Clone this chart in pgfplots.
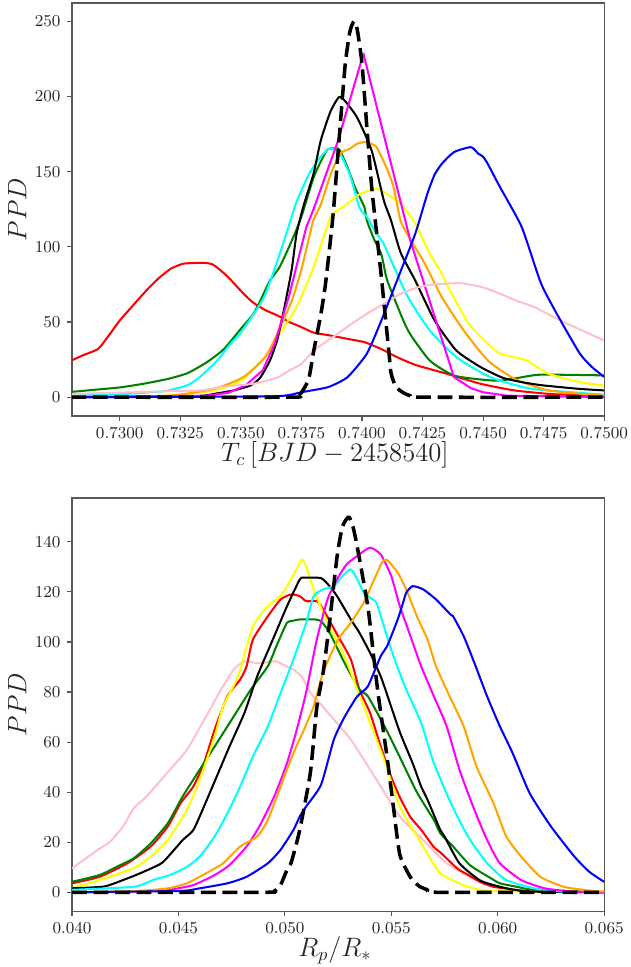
\documentclass[border=0pt]{standalone}
\usepackage{pgfplots}
\pgfplotsset{compat=1.18}
\definecolor{mgreen}{HTML}{008000}
\definecolor{morange}{HTML}{FFA500}
\definecolor{mpink}{HTML}{FFC0CB}
\definecolor{myellow}{HTML}{FFFF00}
\definecolor{mcyan}{HTML}{00FFFF}
\definecolor{mmagenta}{HTML}{FF00FF}
\definecolor{mblue}{HTML}{0000FF}
\definecolor{mred}{HTML}{FF0000}
\pgfplotsset{
 mystyle/.style={
  scale only axis, width=287.3pt, height=223pt,
  axis line style={black!65, line width=0.6pt},
  tick align=outside, tick pos=left,
  major tick length=2.7pt,
  every tick/.style={black!65, line width=0.6pt},
  tick label style={font=\fontsize{9.4}{11}\selectfont, text=black!85},
  label style={font=\fontsize{14}{16}\selectfont, text=black!85},
  scaled ticks=false,
  ylabel={$PPD$},
  ylabel style={at={(axis description cs:-0.103,0.5)}, anchor=center},
  xlabel style={at={(axis description cs:0.494,-0.094)}, anchor=center},
  every axis plot/.append style={line width=1.1pt, line join=round},
 },
 sm/.style={smooth, tension=0.35},
 dsh/.style={black, line width=1.9pt, dash pattern=on 8pt off 3.6pt, smooth, tension=0.35},
}
\begin{document}
\begin{tikzpicture}
\useasboundingbox (-38.9pt,-297.5pt) rectangle (301.3pt,224.6pt);
% ---------------- top panel ----------------
\begin{axis}[mystyle, at={(0,0)}, anchor=south west,
  xmin=0.72803, xmax=0.7500, ymin=-12.5, ymax=262.2,
  xtick={0.7300,0.7325,0.7350,0.7375,0.7400,0.7425,0.7450,0.7475,0.7500},
  ytick={0,50,100,150,200,250},
  xticklabel style={/pgf/number format/.cd, fixed, fixed zerofill, precision=4},
  xlabel={$T_c\,[BJD-2458540]$}]
\addplot[mred, sm] coordinates {(0.7280,24.4)(0.7285,28)(0.7291,32)(0.7295,40)(0.7300,51)(0.7306,62)(0.7311,71)(0.7316,79)(0.7321,85.4)(0.7326,88.7)(0.7330,89.2)(0.7335,89.4)(0.7338,88.5)(0.7340,86.5)(0.7344,81)(0.7347,76)(0.7351,69)(0.7355,63)(0.7360,58)(0.7365,54.4)(0.7370,50)(0.7375,46.6)(0.7380,43)(0.7387,41)(0.7395,38.5)(0.7401,36.6)(0.7408,32)(0.7414,27)(0.7422,21.5)(0.7435,15.6)(0.7449,8.9)(0.7463,4.5)(0.7479,2)(0.7500,1)};
\addplot[mgreen, sm] coordinates {(0.7280,3.5)(0.7290,5)(0.7300,6.5)(0.7310,9)(0.7320,12.2)(0.7328,16)(0.7336,23.3)(0.7343,32)(0.7350,45.5)(0.7355,55)(0.7358,64)(0.7362,77.6)(0.7366,86.5)(0.7371,104)(0.7375,120)(0.7380,146)(0.7384,160)(0.7386,165)(0.7390,165.5)(0.7391,164)(0.7394,153)(0.7397,140)(0.7401,126.4)(0.7402,117.6)(0.7405,105)(0.7408,95)(0.7410,80)(0.7412,71)(0.7419,44.4)(0.7428,24.4)(0.7438,14.4)(0.7450,11.6)(0.7457,11)(0.7465,13)(0.7474,15)(0.7500,14.5)};
\addplot[mcyan, sm] coordinates {(0.7280,1)(0.7300,2)(0.7315,3.5)(0.7320,4.5)(0.7328,8)(0.7333,13.3)(0.7340,24)(0.7346,36)(0.7350,43)(0.7356,57)(0.7360,68)(0.7366,95)(0.7370,115)(0.7373,130)(0.7378,148)(0.7382,158)(0.7386,165)(0.7389,165)(0.7391,162)(0.7395,148)(0.7399,126)(0.7402,120)(0.7406,109)(0.7409,102)(0.7412,91)(0.7419,66.5)(0.7428,44.4)(0.7439,26.6)(0.7453,13.3)(0.7470,5.6)(0.7500,1.7)};
\addplot[myellow, sm] coordinates {(0.7280,0)(0.7320,1)(0.7339,4.5)(0.7350,11)(0.7360,26.6)(0.7366,42.2)(0.7373,60)(0.7380,86.5)(0.7387,119.8)(0.7390,124)(0.7395,130)(0.7399,135)(0.7403,137.5)(0.7406,138.6)(0.7408,137.5)(0.7416,128.6)(0.7422,115.4)(0.7428,95.4)(0.7432,85)(0.7436,72)(0.7444,49)(0.7452,35.5)(0.7457,28.9)(0.7462,27)(0.7468,24.4)(0.7477,15.6)(0.7490,10)(0.7500,7.8)};
\addplot[morange, sm] coordinates {(0.7280,0)(0.7320,1)(0.7339,5.6)(0.7351,13.3)(0.7360,26.6)(0.7365,42)(0.7371,64)(0.7375,85)(0.7378,105)(0.7380,118)(0.7383,128)(0.7387,148)(0.7391,162)(0.7395,165.3)(0.7398,168.6)(0.7401,169.7)(0.7403,169)(0.7406,166.4)(0.7410,153)(0.7413,140)(0.7416,117)(0.7420,105)(0.7426,88.7)(0.7433,66.5)(0.7442,44.4)(0.7452,24.4)(0.7463,12.2)(0.7477,4.5)(0.7500,1)};
\addplot[black, sm] coordinates {(0.7280,0)(0.7330,0.5)(0.7340,2.5)(0.7347,4.5)(0.7354,7.8)(0.7358,13)(0.7362,24.4)(0.7365,38)(0.7368,59.9)(0.7371,85)(0.7373,108.7)(0.7376,128)(0.7380,148.6)(0.7383,170.8)(0.7387,190)(0.73905,199.6)(0.7393,197)(0.7398,186)(0.7404,164)(0.7409,131)(0.7412,117.6)(0.7416,96)(0.7422,77.6)(0.7430,51)(0.7439,31)(0.7449,20)(0.7458,13)(0.7466,10)(0.7474,8)(0.7482,6.7)(0.7490,5.5)(0.7500,4.5)};
\addplot[mmagenta] coordinates {(0.7280,0)(0.7336,1)(0.7345,3)(0.7352,8)(0.7359,17.8)(0.7364,35.7)(0.7370,68)(0.7377,113)(0.7380,125)(0.7390,170)(0.74006,228.5)(0.7420,104)(0.7438,13.3)(0.7445,6)(0.7450,3.3)(0.7460,1)(0.7500,0)};
\addplot[mpink, sm] coordinates {(0.7280,2.2)(0.7300,3)(0.7320,4)(0.7333,4.5)(0.7343,7)(0.7355,8.9)(0.7365,13)(0.7370,17.8)(0.7375,22.2)(0.7380,31)(0.7388,40)(0.7395,48)(0.7402,55.5)(0.7409,62)(0.7416,68.8)(0.7423,73)(0.7430,75)(0.7441,75.8)(0.7450,73)(0.7457,68.8)(0.7464,64)(0.7471,60)(0.7482,51)(0.7490,45)(0.7500,37.7)};
\addplot[mblue, sm] coordinates {(0.7280,0)(0.7360,0.5)(0.7370,1.5)(0.7375,3.3)(0.7386,6.7)(0.7394,13.3)(0.7402,28.9)(0.7408,51)(0.7415,79.8)(0.7422,108.7)(0.7427,135.3)(0.7430,148)(0.7433,155.3)(0.7438,163)(0.7445,166.3)(0.7448,162)(0.7450,160)(0.7452,155)(0.7457,139.7)(0.7466,113)(0.7474,75.4)(0.7482,51)(0.7490,28.9)(0.7495,20)(0.7500,13.5)};
\addplot[dsh] coordinates {(0.7280,0)(0.7370,0)(0.7373,1)(0.7375,3)(0.7378,12)(0.7380,30)(0.7383,55)(0.7385,76)(0.7388,120)(0.7390,160)(0.7393,220)(0.7395,243)(0.73967,250)(0.7398,245)(0.7400,222)(0.7402,180)(0.7404,140)(0.7406,110)(0.7408,80)(0.7409,64)(0.7411,32)(0.7412,16)(0.7414,7)(0.7417,3)(0.7420,1)(0.7425,0)(0.7500,0)};
\end{axis}
% ---------------- bottom panel ----------------
\begin{axis}[mystyle, at={(0,-267.3pt)}, anchor=south west,
  xmin=0.040, xmax=0.065, ymin=-7.5, ymax=157.5,
  xtick={0.040,0.045,0.050,0.055,0.060,0.065},
  ytick={0,20,40,60,80,100,120,140},
  xticklabel style={/pgf/number format/.cd, fixed, fixed zerofill, precision=3},
  xlabel={$R_p/R_*$}]
\addplot[mpink, sm] coordinates {(0.0400,9.6)(0.0412,16.9)(0.0418,20.3)(0.0424,26.3)(0.0429,33.6)(0.0435,38.3)(0.0446,49)(0.0454,57)(0.0463,70.3)(0.0470,81)(0.0476,89)(0.0481,92.3)(0.0487,91.5)(0.0492,91.9)(0.0496,92.3)(0.0500,90.5)(0.0504,89)(0.0508,86)(0.0512,79.7)(0.0517,75)(0.0524,68)(0.0531,61)(0.0543,45)(0.0554,30.3)(0.0565,20.9)(0.0576,11.6)(0.0590,4.9)(0.0604,1.6)(0.0620,0.3)(0.0650,0)};
\addplot[mred, sm] coordinates {(0.0400,3.6)(0.0413,6.2)(0.0426,11.6)(0.0437,18.3)(0.0445,26.3)(0.0451,35.6)(0.0457,42.3)(0.0462,51.6)(0.0467,65)(0.0473,78.3)(0.0479,85)(0.0482,90.3)(0.0485,101)(0.0492,110.3)(0.0498,117)(0.0503,119)(0.0507,118.3)(0.0510,116.3)(0.0515,116.3)(0.0518,113)(0.0525,102.3)(0.0531,93)(0.0535,81)(0.0540,71.7)(0.0545,58.3)(0.0550,46)(0.0554,38)(0.0559,30)(0.0564,25)(0.0570,18)(0.0573,16)(0.0581,9.5)(0.0586,7)(0.0592,4)(0.0598,2.2)(0.0604,1.5)(0.0615,0.4)(0.0650,0)};
\addplot[mgreen, sm] coordinates {(0.0400,4.2)(0.0413,6.9)(0.0421,10.2)(0.0429,13.6)(0.0437,19.6)(0.0445,27.6)(0.0452,38.3)(0.0460,49)(0.0468,59.6)(0.0476,70.3)(0.0484,81)(0.0492,90.3)(0.0496,98.3)(0.0501,107.7)(0.0504,108.5)(0.0507,109)(0.0514,109)(0.0517,108.3)(0.0521,103.7)(0.0528,91.7)(0.0535,81)(0.0539,78.3)(0.0547,66)(0.0554,54)(0.0562,40)(0.0570,28.9)(0.0573,23.6)(0.0579,18.3)(0.0586,11.6)(0.0589,9.6)(0.0597,5.5)(0.0601,3.6)(0.0609,2.2)(0.0617,1)(0.0650,0)};
\addplot[myellow, sm] coordinates {(0.0400,1.6)(0.0413,4.9)(0.0429,9.6)(0.0437,14.3)(0.0445,20.9)(0.0454,33)(0.0460,45)(0.0467,62.3)(0.0471,74.3)(0.0478,86.3)(0.0485,106.3)(0.0492,114.3)(0.0496,117)(0.0498,118.3)(0.0502,123.7)(0.0506,130)(0.0508,133)(0.0510,130)(0.05135,121)(0.0520,107.7)(0.0528,94.3)(0.0534,81)(0.0546,54.3)(0.0554,34.3)(0.0564,19.6)(0.0573,7.6)(0.0586,2.2)(0.0598,0.5)(0.0650,0)};
\addplot[black, sm] coordinates {(0.0400,1.6)(0.0415,2.3)(0.0424,4.9)(0.0432,7.6)(0.0442,11.6)(0.0448,17)(0.0452,20.9)(0.0457,24.9)(0.0462,34.3)(0.0468,46.3)(0.0474,58.3)(0.0481,71.7)(0.0487,86.3)(0.0495,102.3)(0.0501,114.3)(0.0507,125)(0.0509,125.7)(0.0517,125.5)(0.0521,122.3)(0.05245,118.3)(0.0531,109)(0.0535,103.7)(0.0540,95.7)(0.0545,86.3)(0.0548,79)(0.0554,64)(0.0560,51.6)(0.0564,42.3)(0.0567,37)(0.0573,24.9)(0.0575,22.3)(0.0582,11.6)(0.0592,4.6)(0.0604,1.6)(0.0615,0.3)(0.0650,0)};
\addplot[mcyan, sm] coordinates {(0.0400,1)(0.0429,2.2)(0.0438,4.9)(0.0446,6.9)(0.0454,10.2)(0.0460,14.3)(0.0467,22.3)(0.0473,31.6)(0.0479,42.3)(0.0485,54.3)(0.0492,66.3)(0.0498,79.7)(0.0504,93)(0.0510,107.7)(0.05135,118.3)(0.0518,121)(0.0523,122.3)(0.0527,126.3)(0.0531,129)(0.0534,125)(0.0537,119.7)(0.0540,117.7)(0.0543,115.7)(0.0546,107.7)(0.0551,94.3)(0.0557,81)(0.0564,67.7)(0.0570,51.6)(0.0578,35.6)(0.0586,22.3)(0.0595,11.6)(0.0604,4.9)(0.0617,1.6)(0.0630,0.3)(0.0650,0)};
\addplot[mmagenta, sm] coordinates {(0.0400,0)(0.0440,0.5)(0.0446,1)(0.0457,2.9)(0.0467,6.9)(0.0474,10.9)(0.0482,18.3)(0.0488,26.3)(0.0495,38.3)(0.0501,51.6)(0.0506,66.3)(0.0510,80)(0.0515,101)(0.0520,117)(0.05245,125)(0.0529,131)(0.0535,135)(0.0540,137.7)(0.0545,135)(0.0550,126.3)(0.0554,114.3)(0.0559,102.3)(0.0564,90.3)(0.0570,78.3)(0.0576,66.3)(0.0582,49)(0.0589,33)(0.0595,20.9)(0.0601,11.6)(0.0611,4.9)(0.0622,1.6)(0.0635,0.3)(0.0650,0)};
\addplot[morange, sm] coordinates {(0.0400,0)(0.0430,0.5)(0.0445,1.6)(0.0454,3.6)(0.0463,7.6)(0.0471,11.6)(0.0479,18.3)(0.0487,22.3)(0.0492,28.9)(0.0498,42.3)(0.0504,55.6)(0.0509,65)(0.05135,74.3)(0.0518,88)(0.0525,101)(0.0531,107.7)(0.0537,115.7)(0.0542,125)(0.05456,131.7)(0.0548,132.8)(0.0553,127.7)(0.0557,121)(0.0562,110.3)(0.0567,101)(0.0571,90.3)(0.0577,79)(0.0584,66.3)(0.0590,50.3)(0.0598,35.6)(0.0604,22.3)(0.0611,14.3)(0.0620,6.2)(0.0631,2.2)(0.0642,0.8)(0.0650,0.3)};
\addplot[mblue, sm] coordinates {(0.0400,0)(0.0450,0.5)(0.0460,1.6)(0.0473,3.6)(0.0482,6.2)(0.0492,11.6)(0.0498,17)(0.0504,24.9)(0.0507,30.3)(0.0510,34.3)(0.0517,43)(0.0523,61)(0.0528,70)(0.0534,78.3)(0.0539,82.3)(0.0545,94.3)(0.0548,98.3)(0.0553,109)(0.0556,117)(0.0557,119.7)(0.0560,122.3)(0.0565,121)(0.0571,117)(0.0578,110.8)(0.0579,110.3)(0.0584,102.3)(0.0589,91.7)(0.0595,78.3)(0.0601,66.3)(0.0607,55.6)(0.0615,39.6)(0.0625,26.3)(0.0636,14.3)(0.0643,8.2)(0.0650,4.2)};
\addplot[dsh] coordinates {(0.0400,0)(0.0490,0)(0.0495,0.5)(0.0498,3)(0.0501,9)(0.0503,12)(0.0507,25)(0.0512,48)(0.0515,74)(0.0518,88)(0.0521,108)(0.05245,134)(0.0527,146)(0.0530,150)(0.0532,146)(0.0534,138)(0.0539,114)(0.0542,92)(0.0544,78)(0.0548,54)(0.0551,34)(0.0554,15)(0.0559,6)(0.0563,2.5)(0.0567,1)(0.0572,0)(0.0650,0)};
\end{axis}
\end{tikzpicture}
\end{document}
